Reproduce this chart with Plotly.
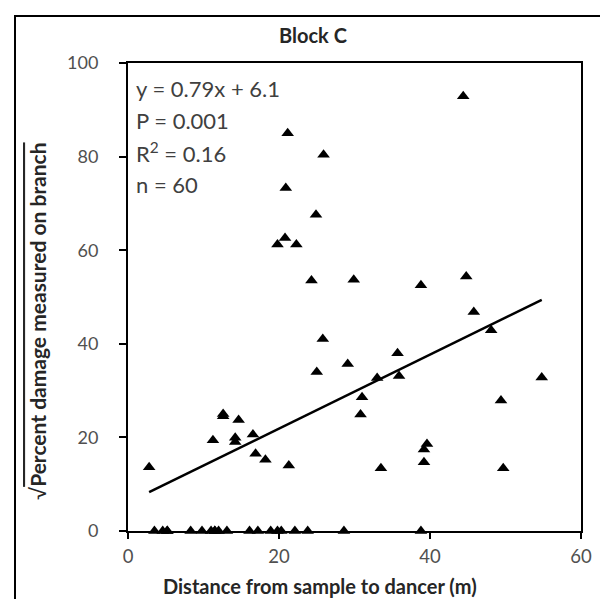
import plotly.graph_objects as go

# Distance (m) and sqrt percent damage
dist_m = [
    3.5, 4.6, 5.2, 8.3, 9.8, 11.0, 11.5, 12.0, 13.1, 16.1, 17.2, 18.9, 19.8, 20.3,
    22.1, 23.8, 28.6, 38.8, 5.2, 11.5,
    2.8, 11.25, 12.6, 12.6, 14.65, 14.2, 14.2, 16.55, 16.9, 18.2, 21.3,
    21.15, 25.9, 20.9, 24.9, 20.8, 22.3, 19.8, 24.3, 29.9, 25.8, 29.1, 25.0,
    38.8, 44.8, 45.8, 48.1, 35.7, 33.0, 35.9, 31.0, 30.8, 49.4, 54.8,
    39.6, 39.2, 39.2, 33.5, 49.7, 44.4,
]
damage_sqrt = [
    0, 0, 0, 0, 0, 0, 0, 0, 0, 0, 0, 0, 0, 0,
    0, 0, 0, 0, 0, 0,
    13.6, 19.4, 24.5, 25.0, 23.7, 19.9, 19.0, 20.6, 16.5, 15.2, 14.0,
    85.0, 80.4, 73.3, 67.6, 62.6, 61.2, 61.2, 53.5, 53.7, 41.0, 35.7, 34.0,
    52.5, 54.4, 46.8, 42.9, 38.0, 32.7, 33.1, 28.6, 24.9, 27.9, 32.8,
    18.6, 17.4, 14.7, 13.4, 13.4, 92.9,
]
# fitted trend line end points (y = 0.79x + 6.1)
trend_x = [2.8, 54.8]
trend_y = [8.3, 49.4]

stats_lines = ["y = 0.79x + 6.1", "P = 0.001", "R<sup>2</sup> = 0.16", "n = 60"]
x_ticks = [0, 20, 40, 60]
y_ticks = [0, 20, 40, 60, 80, 100]

FONT = "Lato, Calibri, Arial, sans-serif"

fig = go.Figure()
fig.add_trace(go.Scatter(
    x=trend_x, y=trend_y, mode="lines",
    line=dict(color="black", width=2.5), hoverinfo="skip", showlegend=False,
))
fig.add_trace(go.Scatter(
    x=dist_m, y=damage_sqrt, mode="markers",
    marker=dict(symbol="triangle-up", size=11, color="black", line=dict(width=0)),
    showlegend=False, cliponaxis=False,
))

W, H = 608, 599
L, R, T, B = 120, 35, 55, 76
pw, ph = W - L - R, H - T - B

def px(x):
    return (x - L) / pw

def py(y):
    return (H - B - y) / ph

annotations = []
for i, s in enumerate(stats_lines):
    annotations.append(dict(
        x=px(126), y=py(80 + i * 32.3), xref="paper", yref="paper",
        xanchor="left", yanchor="middle", showarrow=False, text=s,
        font=dict(family=FONT, size=22, color="#404040"),
    ))
annotations.append(dict(
    x=px(305), y=py(27), xref="paper", yref="paper", xanchor="center", yanchor="middle",
    showarrow=False, text="<b>Block C</b>", font=dict(family=FONT, size=20, color="#262626"),
))
annotations.append(dict(
    x=px(312), y=py(578), xref="paper", yref="paper", xanchor="center", yanchor="middle",
    showarrow=False, text="<b>Distance from sample to dancer (m)</b>",
    font=dict(family=FONT, size=20, color="#262626"),
))
annotations.append(dict(
    x=px(29), y=py(313), xref="paper", yref="paper", xanchor="center", yanchor="middle",
    showarrow=False, textangle=-90,
    text="√<span style='text-decoration:overline'><b>Percent damage measured on branch</b></span>",
    font=dict(family=FONT, size=21, color="#262626"),
))

shapes = [dict(
    type="rect", xref="paper", yref="paper",
    x0=px(7), x1=px(601), y0=py(598), y1=py(8),
    line=dict(color="black", width=2), fillcolor="rgba(0,0,0,0)", layer="above",
)]

fig.update_layout(
    width=W, height=H, margin=dict(l=L, r=R, t=T, b=B),
    paper_bgcolor="white", plot_bgcolor="white",
    annotations=annotations, shapes=shapes,
    font=dict(family=FONT),
)
fig.update_xaxes(
    range=[0, 60], tickvals=x_ticks, showgrid=False, zeroline=False,
    showline=True, linecolor="black", linewidth=2, mirror=True,
    ticks="outside", ticklen=6, tickwidth=2, tickcolor="black",
    tickfont=dict(family=FONT, size=18.5, color="#505050"), ticklabelstandoff=2,
)
fig.update_yaxes(
    range=[0, 100], tickvals=y_ticks, showgrid=False, zeroline=False,
    showline=True, linecolor="black", linewidth=2, mirror=True,
    ticks="outside", ticklen=7, tickwidth=2, tickcolor="black",
    tickfont=dict(family=FONT, size=18, color="#505050"), ticklabelstandoff=17,
)

fig.write_html("out.html")
